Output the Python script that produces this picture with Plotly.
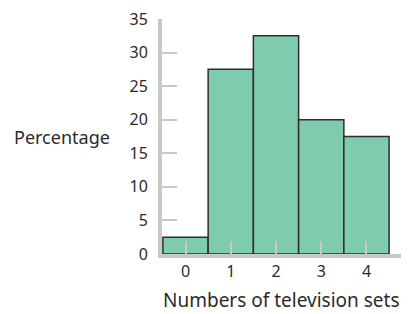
import plotly.graph_objects as go

categories = [0, 1, 2, 3, 4]
percentages = [2.5, 27.5, 32.5, 20, 17.5]
y_ticks = [0, 5, 10, 15, 20, 25, 30, 35]

FONT = "Noto Sans"
TXT = "#2b2b2b"
AX = "#c8c8c8"

fig = go.Figure(go.Bar(
    x=categories, y=percentages, width=1,
    marker=dict(color="#7ecbad", line=dict(color="#2e2e2e", width=1.5)),
))

# the page body has an 8px margin, so the figure is sized 8px smaller
fig.update_layout(
    width=401, height=306,
    margin=dict(l=154, r=0, t=8, b=60),
    plot_bgcolor="white", paper_bgcolor="white",
    showlegend=False,
    font=dict(family=FONT, size=16, color=TXT),
    xaxis=dict(
        range=[-0.52, 4.94], tickvals=categories, ticktext=[str(c) for c in categories],
        showline=True, linecolor=AX, linewidth=4,
        ticks="inside", ticklen=13, tickwidth=2, tickcolor=AX,
        showgrid=False, zeroline=False, fixedrange=True,
        tickfont=dict(family=FONT, size=16, color=TXT),
    ),
    yaxis=dict(
        range=[0, 35], tickvals=y_ticks,
        showline=True, linecolor=AX, linewidth=4,
        ticks="inside", ticklen=15, tickwidth=2, tickcolor=AX,
        showgrid=False, zeroline=False, fixedrange=True,
        ticklabelstandoff=7, ticklabeloverflow="allow",
        tickfont=dict(family=FONT, size=16, color=TXT),
    ),
    annotations=[
        dict(text="Percentage", xref="paper", yref="paper", x=0, y=0.498,
             xanchor="right", yanchor="middle", xshift=-50, showarrow=False,
             font=dict(family=FONT, size=18, color=TXT)),
        dict(text="Numbers of television sets", xref="paper", yref="paper",
             x=0.483, y=-0.197, xanchor="center", yanchor="middle", showarrow=False,
             font=dict(family=FONT, size=19, color=TXT)),
    ],
)

fig.write_html("out.html")
